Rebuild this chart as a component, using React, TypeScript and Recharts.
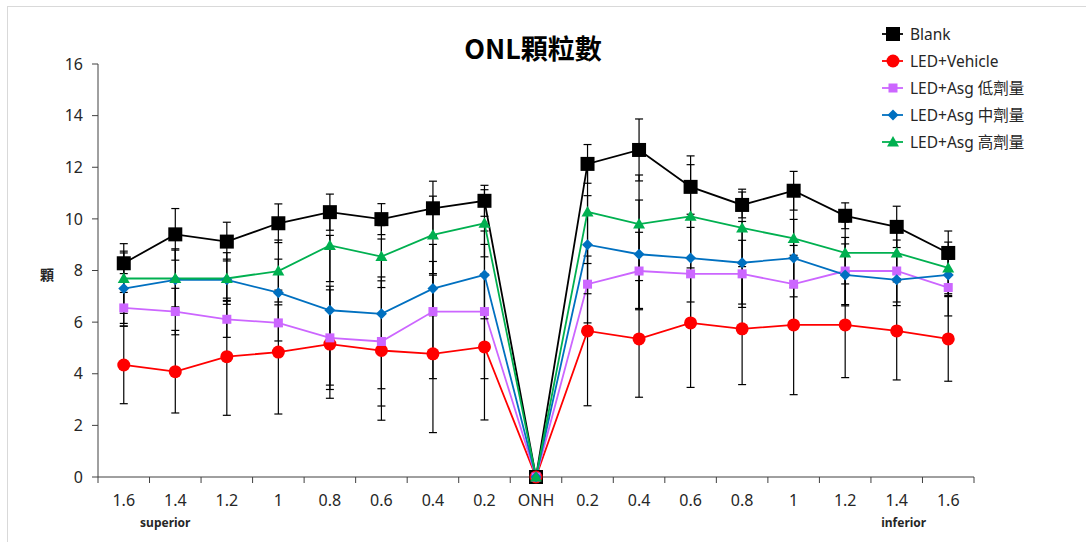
import React from 'react';
import { LineChart, Line, XAxis, YAxis, ErrorBar } from 'recharts';

const FONT = '"Noto Sans", "Noto Sans CJK TC", sans-serif';
const CJK = '"Noto Sans CJK TC", "Noto Sans", sans-serif';

const categories = ['1.6', '1.4', '1.2', '1', '0.8', '0.6', '0.4', '0.2', 'ONH', '0.2', '0.4', '0.6', '0.8', '1', '1.2', '1.4', '1.6'];

const blank = [8.28, 9.4, 9.12, 9.83, 10.26, 9.99, 10.41, 10.7, 0, 12.13, 12.67, 11.24, 10.54, 11.09, 10.12, 9.69, 8.68];
const blankErr = [0.4, 1.0, 0.75, 0.75, 0.7, 0.6, 1.05, 0.6, 0, 0.75, 1.2, 1.2, 0.5, 0.75, 0.5, 0.8, 0.85];

const vehicle = [4.34, 4.08, 4.66, 4.84, 5.15, 4.9, 4.77, 5.04, 0, 5.66, 5.35, 5.97, 5.74, 5.89, 5.89, 5.66, 5.35];
const vehicleErr = [1.5, 1.6, 2.27, 2.4, 2.1, 2.7, 3.05, 2.83, 0, 2.9, 2.26, 2.5, 2.16, 2.7, 2.04, 1.9, 1.64];

const low = [6.55, 6.41, 6.11, 5.97, 5.39, 5.25, 6.41, 6.41, 0, 7.47, 7.98, 7.87, 7.87, 7.47, 7.98, 7.98, 7.34];
const lowErr = [0.6, 0.9, 0.7, 0.7, 2.0, 2.5, 2.6, 2.6, 0, 1.5, 1.5, 1.8, 1.3, 1.5, 1.3, 1.2, 1.1];

const mid = [7.3, 7.64, 7.64, 7.14, 6.46, 6.32, 7.3, 7.83, 0, 9.0, 8.63, 8.48, 8.3, 8.48, 7.83, 7.64, 7.83];
const midErr = [1.45, 1.2, 0.8, 1.3, 2.9, 2.9, 1.05, 1.7, 0, 1.9, 2.1, 1.7, 1.6, 1.5, 1.2, 1.0, 0.8];

const high = [7.69, 7.69, 7.69, 7.98, 8.97, 8.54, 9.38, 9.83, 0, 10.27, 9.8, 10.1, 9.65, 9.24, 8.68, 8.68, 8.1];
const highErr = [1.35, 1.1, 1.0, 1.2, 1.4, 1.2, 1.5, 1.3, 0, 2.0, 1.9, 2.0, 1.5, 1.9, 1.2, 1.0, 1.0];

const yTicks = [0, 2, 4, 6, 8, 10, 12, 14, 16];

const series = [
  { key: 'blank', name: 'Blank', color: '#000000', shape: 'bigSquare' },
  { key: 'vehicle', name: 'LED+Vehicle', color: '#FF0000', shape: 'circle' },
  { key: 'low', name: 'LED+Asg 低劑量', color: '#CC66FF', shape: 'square' },
  { key: 'mid', name: 'LED+Asg 中劑量', color: '#0070C0', shape: 'diamond' },
  { key: 'high', name: 'LED+Asg 高劑量', color: '#00B050', shape: 'triangle' },
];

const data = categories.map((c, i) => ({
  idx: i,
  label: c,
  blank: blank[i], blankErr: blankErr[i],
  vehicle: vehicle[i], vehicleErr: vehicleErr[i],
  low: low[i], lowErr: lowErr[i],
  mid: mid[i], midErr: midErr[i],
  high: high[i], highErr: highErr[i],
}));

// labels at integers, tick marks at category boundaries (Excel style)
const xTicks: number[] = [];
categories.forEach((_, i) => { xTicks.push(i - 0.5, i); });
xTicks.push(categories.length - 0.5);

const Marker = ({ shape, cx, cy, color }: any) => {
  if (cx == null || cy == null) return null;
  switch (shape) {
    case 'bigSquare':
      return <rect x={cx - 7} y={cy - 7} width={14} height={14} fill={color} />;
    case 'circle':
      return <circle cx={cx} cy={cy} r={6.5} fill={color} />;
    case 'square':
      return <rect x={cx - 4.5} y={cy - 4.5} width={9} height={9} fill={color} />;
    case 'diamond':
      return <polygon points={`${cx},${cy - 5.5} ${cx + 5.5},${cy} ${cx},${cy + 5.5} ${cx - 5.5},${cy}`} fill={color} />;
    case 'triangle':
      return <polygon points={`${cx},${cy - 6} ${cx + 6},${cy + 4.5} ${cx - 6},${cy + 4.5}`} fill={color} />;
    default:
      return null;
  }
};

const XTick = ({ x, y, payload }: any) => {
  const v = payload.value;
  if (!Number.isInteger(v)) {
    return <line x1={x} x2={x} y1={y - 6} y2={y} stroke="#404040" strokeWidth={1} />;
  }
  return (
    <g>
      <text x={x} y={y + 23} textAnchor="middle" fontSize={16} fill="#262626" fontFamily={FONT}>
        {categories[v]}
      </text>
      {v === 1 && (
        <text x={x - 10} y={y + 44} textAnchor="middle" fontSize={12} fontWeight="bold" fill="#262626" fontFamily={FONT}>
          superior
        </text>
      )}
      {v === 15 && (
        <text x={x + 7} y={y + 44} textAnchor="middle" fontSize={12} fontWeight="bold" fill="#262626" fontFamily={FONT}>
          inferior
        </text>
      )}
    </g>
  );
};

const LegendBox = () => (
  <svg width={200} height={140} style={{ position: 'absolute', left: 875, top: 20 }}>
    {series.map((s, i) => {
      const cy = 14 + i * 27;
      return (
        <g key={s.key}>
          <line x1={7} x2={28} y1={cy} y2={cy} stroke={s.color} strokeWidth={1.8} />
          <Marker shape={s.shape} cx={18} cy={cy} color={s.color} />
          <text x={35} y={cy + 5.5} fontSize={15.5} fill="#262626" fontFamily={FONT}>{s.name}</text>
        </g>
      );
    })}
  </svg>
);

export default function App() {
  return (
    <div style={{ position: 'absolute', left: 0, top: 0, width: 1086, height: 542, overflow: 'hidden', background: '#fff', fontFamily: FONT }}>
      <div style={{ position: 'absolute', left: 7, top: 6, width: 1100, height: 560, border: '1px solid #d9d9d9' }} />
      <LineChart
        width={1086}
        height={542}
        data={data}
        margin={{ top: 64, right: 112, bottom: 35, left: 48 }}
        style={{ position: 'absolute', left: 0, top: 0 }}
      >
        <XAxis
          dataKey="idx"
          type="number"
          domain={[-0.5, categories.length - 0.5]}
          ticks={xTicks}
          interval={0}
          tickLine={false}
          tickSize={6}
          tickMargin={0}
          height={30}
          axisLine={{ stroke: '#404040' }}
          tick={<XTick />}
        />
        <YAxis
          domain={[0, 16]}
          ticks={yTicks}
          interval={0}
          width={50}
          tickSize={6}
          tickMargin={9}
          tickLine={{ stroke: '#404040' }}
          axisLine={{ stroke: '#404040' }}
          tick={{ fontSize: 16, fill: '#262626', fontFamily: FONT }}
        />
        {series.map(s => (
          <Line
            key={s.key}
            dataKey={s.key}
            name={s.name}
            stroke={s.color}
            strokeWidth={1.8}
            isAnimationActive={false}
            dot={(p: any) => <Marker key={`${s.key}-${p.index}`} shape={s.shape} cx={p.cx} cy={p.cy} color={s.color} />}
            activeDot={false}
          >
            <ErrorBar dataKey={`${s.key}Err`} direction="y" width={4} stroke="#000" strokeWidth={1.2} isAnimationActive={false} />
          </Line>
        ))}
      </LineChart>
      <div style={{ position: 'absolute', left: 0, width: 1066, top: 28, textAlign: 'center', fontSize: 27, fontWeight: 'bold', fontFamily: CJK, color: '#000' }}>
        ONL顆粒數
      </div>
      <div style={{ position: 'absolute', left: 40, top: 264, fontSize: 14, fontWeight: 'bold', fontFamily: CJK, color: '#262626' }}>顆</div>
      <LegendBox />
    </div>
  );
}
